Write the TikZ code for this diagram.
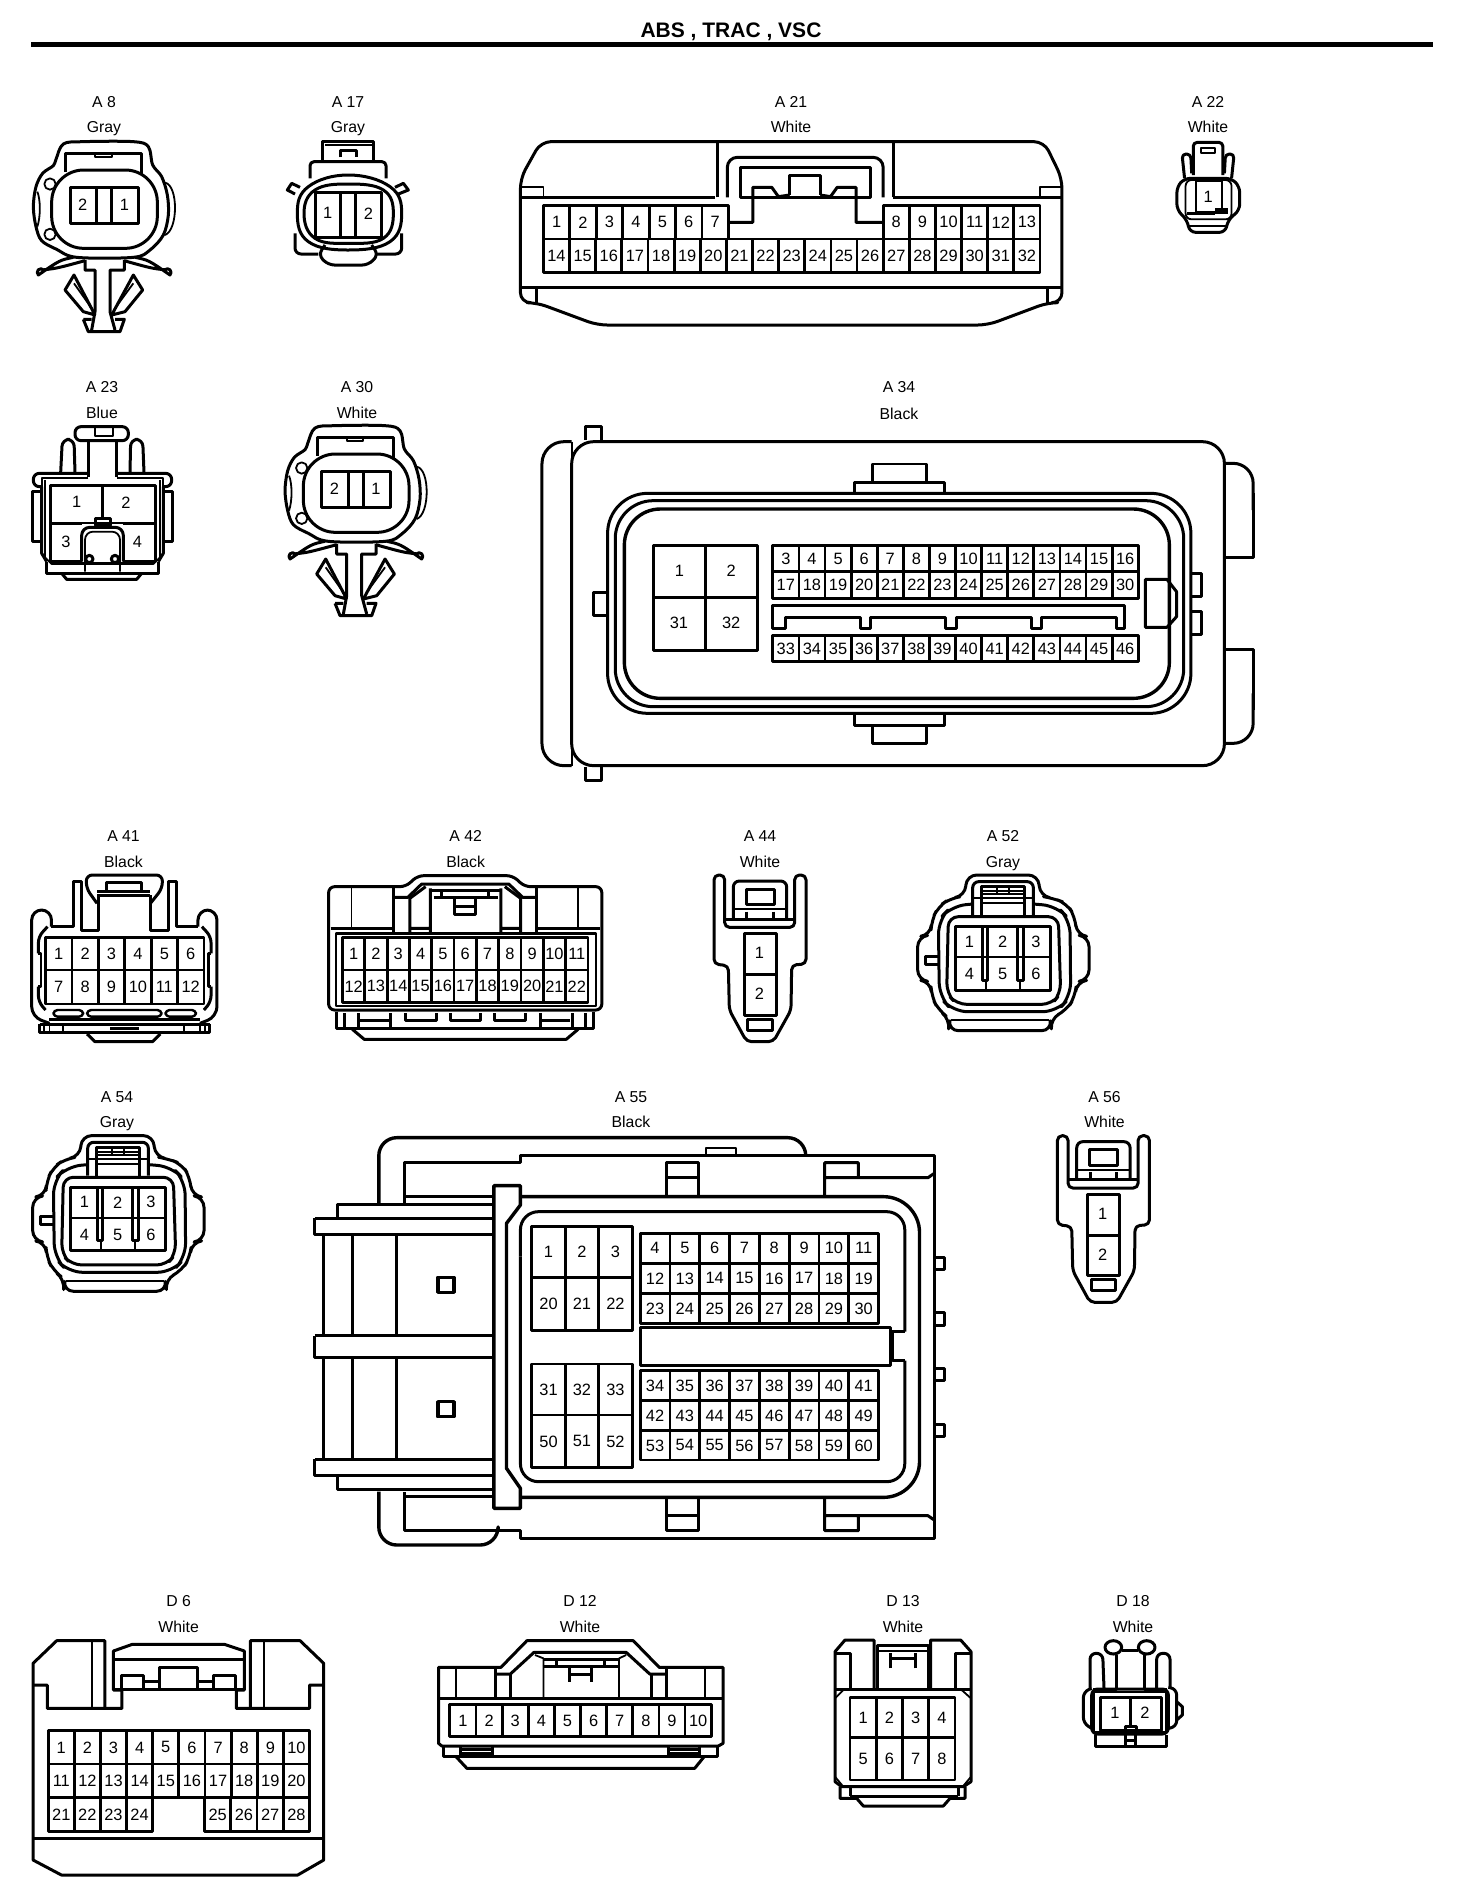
\documentclass[tikz,border=0pt]{standalone}
\usepackage{fontspec}
\setmainfont{Liberation Sans}
\tikzset{
  fine/.style={line width=0.9pt},
  heavy/.style={line width=1.7pt},
  cellbox/.style={line width=1.4pt},
  pinlabel/.style={inner sep=0pt,font=\fontsize{8.2}{10}\selectfont},
  connlabel/.style={inner sep=0pt,anchor=base,font=\fontsize{7.9}{9}\selectfont},
  titlelabel/.style={inner sep=0pt,font=\bfseries\fontsize{10.5}{12}\selectfont},
  zth/.style={x=0.16667pt,y=-0.16667pt}
}
% prefix, x0, x1, cells, y0, y1, first number
\newcommand\pinrow[7]{%
  \foreach \k in {1,...,#4}{%
    \pgfmathsetmacro\xa{#2+(#3-#2)/#4*(\k-1)}%
    \pgfmathsetmacro\xb{#2+(#3-#2)/#4*\k}%
    \pgfmathtruncatemacro\num{#7+\k-1}%
    \draw[cellbox] (\xa,#5) rectangle (\xb,#6);
    \node[pinlabel] (#1-\num) at ({(\xa+\xb)/2},{(#5+#6)/2}) {\num};
  }}
% clip connector (A8, A30), in A8 zoom coordinates
\newcommand\clipconn[3]{%
  \draw plot[smooth cycle,tension=.55] coordinates {(168,478)(190,432)(250,425)(400,425)(445,440)(458,495)(485,530)(502,585)(505,645)(490,705)(450,750)(400,772)(230,772)(170,748)(125,722)(108,680)(100,620)(108,560)(128,520)(160,497)};
  \draw[rounded corners=16pt] (155,510) rectangle (472,745);
  \draw (197,515)--(197,460)--(425,460)--(425,522);
  \draw[fine] (285,462)--(285,472)--(335,472)--(335,462);
  \draw (210,562) rectangle (415,670);
  \draw (290,562)--(290,670) (335,562)--(335,670);
  \draw[fine] (150,552) circle[radius=17] (150,703) circle[radius=17];
  \draw[fine] (495,548) .. controls (535,555) and (535,690) .. (495,705);
  \draw[fine] (112,575) .. controls (122,600) and (122,650) .. (112,680);
  \node[pinlabel] (#1-a) at (248,615) {#2};
  \node[pinlabel] (#1-b) at (373,615) {#3};
  \draw (220,772) .. controls (180,780) .. (115,825) arc[start angle=135,end angle=315,radius=11] .. controls (170,805) .. (255,782);
  \draw (405,772) .. controls (445,780) .. (510,825) arc[start angle=45,end angle=-135,radius=11] .. controls (455,805) .. (372,782);
  \draw (255,780)--(255,810)--(285,810)--(285,935)--(275,990);
  \draw (373,780)--(373,810)--(330,810)--(330,935)--(345,990);
  \draw (250,958)--(265,995)--(360,995)--(373,958)--(345,958) (250,958)--(275,958);
  \draw (285,945)--(222,825)--(195,870)--(250,935)--(285,945);
  \draw (335,945)--(400,825)--(428,870)--(375,935)--(335,945);
  \draw[fine] (222,850)--(275,925) (400,850)--(345,925);
}
% two-pin tall connector (A44, A56), in A44 zoom coordinates
\newcommand\tallconn[1]{%
  \draw[rounded corners=2.4pt] (72,300)--(72,165)--(104,165)--(104,322)--(314,322)--(314,165)--(348,165)--(348,432)--(305,435)--(303,570)--(250,665)--(170,665)--(118,570)--(115,437)--(72,432)--cycle;
  \draw[rounded corners=3pt] (130,297)--(130,183)--(290,183)--(290,297);
  \draw (106,297)--(312,297);
  \draw[fine] (130,268)--(290,268);
  \draw (170,275)--(170,297) (250,275)--(250,297);
  \draw (168,207) rectangle (252,253);
  \draw (163,340) rectangle (258,585);
  \draw (163,463)--(258,463);
  \draw (173,597) rectangle (247,630);
  \node[pinlabel] (#1-1) at (208,400) {1};
  \node[pinlabel] (#1-2) at (208,522) {2};
}
% six-pin sealed connector (A52, A54), in A52 zoom coordinates
\newcommand\sealconn[1]{%
  \draw[rounded corners=5pt] (722,345)--(683,350)--(683,480)--(722,485)--(725,530)--(745,570)--(780,597)--(775,632)--(1085,632)--(1080,597)--(1130,570)--(1155,530)--(1160,485)--(1197,480)--(1197,350)--(1160,345)--(1155,290)--(1130,250)--(1090,235)--(1050,228)--(1045,165)--(830,165)--(825,228)--(780,235)--(745,260)--(725,300)--cycle;
  \draw[rounded corners=7pt] (848,252)--(785,258)--(745,300)--(748,530)--(790,575)--(1100,575)--(1142,530)--(1140,300)--(1100,258)--(1030,252);
  \draw[rounded corners=5pt] (775,290)--(1105,290)--(1112,520)--(1085,553)--(800,553)--(770,520)--cycle;
  \draw[fine] (782,600)--(1078,600);
  \draw[rounded corners=3pt] (848,285)--(848,185)--(1030,185)--(1030,285);
  \draw (875,285)--(875,200)--(1003,200)--(1003,285);
  \draw[fine] (848,235)--(1030,235) (875,213)--(1003,213) (875,222)--(1003,222) (875,250)--(1003,250) (920,205)--(920,222) (958,205)--(958,222);
  \draw (745,408)--(705,408)--(705,432)--(745,432);
  \draw (795,320) rectangle (1080,510);
  \draw[fine] (795,412)--(1080,412);
  \draw (878,320)--(878,480)--(893,480)--(893,320);
  \draw (983,320)--(983,480)--(1000,480)--(1000,320);
  \draw[fine] (887,480)--(887,510) (990,480)--(990,510);
  \node[pinlabel] (#1-1) at (838,365) {1};
  \node[pinlabel] (#1-2) at (938,365) {2};
  \node[pinlabel] (#1-3) at (1038,365) {3};
  \node[pinlabel] (#1-4) at (838,462) {4};
  \node[pinlabel] (#1-5) at (938,462) {5};
  \node[pinlabel] (#1-6) at (1038,462) {6};
}
\begin{document}
\begin{tikzpicture}[x=0.5pt,y=-0.5pt,line width=1.5pt,line join=round]
\useasboundingbox (0,0) rectangle (1472,1900);
\fill[white] (0,0) rectangle (1472,1900);
% title
\node[titlelabel] (title) at (731,32) {ABS , TRAC , VSC};
\fill[black] (31,42) rectangle (1433,47);
% labels
\foreach \nm/\cl/\px/\py/\qy in {A 8/Gray/104/107.5/133,A 17/Gray/348/107.5/133,A 21/White/791/107.5/133,A 22/White/1208/107.5/133,
  A 23/Blue/102/392.5/418,A 30/White/357/392.5/418,A 34/Black/899/392.5/419,
  A 41/Black/123.5/841.5/867,A 42/Black/465.6/841.5/867,A 44/White/760/841.5/867,A 52/Gray/1003/841.5/867,
  A 54/Gray/117/1102.5/1127,A 55/Black/631/1102.5/1127,A 56/White/1104.5/1102.5/1127,
  D 6/White/178.6/1606.5/1632,D 12/White/580/1606.5/1632,D 13/White/903/1606.5/1632,D 18/White/1133/1606.5/1632}{
  \node[connlabel] (name \nm) at (\px,\py) {\nm};
  \node[connlabel] (colour \nm) at (\px,\qy) {\cl};
}
% A8
\begin{scope}[zth]
  \clipconn{A8}{2}{1}
\end{scope}
% A30
\begin{scope}[shift={(251.7,284)},zth]
  \clipconn{A30}{2}{1}
\end{scope}
% A17
\begin{scope}[zth]
  \draw (968,482)--(968,425)--(1120,425)--(1120,482);
  \draw[fine] (975,436)--(1115,436);
  \draw (1020,472)--(1020,452)--(1070,452)--(1070,472);
  \draw[rounded corners=2pt] (930,535)--(930,485)--(1158,485)--(1158,535);
  \draw plot[smooth cycle,tension=.7] coordinates {(892,640)(925,560)(1045,525)(1170,560)(1205,640)(1170,725)(1045,750)(925,725)};
  \draw plot[smooth cycle,tension=.7] coordinates {(912,640)(945,570)(1045,552)(1150,570)(1180,640)(1150,715)(1045,730)(945,715)};
  \draw (945,578) rectangle (1145,712);
  \draw (1020,578)--(1020,712) (1065,578)--(1065,712);
  \draw[rounded corners=3pt] (885,700)--(885,762)--(955,762);
  \draw[rounded corners=3pt] (1205,700)--(1205,762)--(1130,762);
  \draw[rounded corners=3pt] (975,735)--(955,765)--(985,795)--(1105,795)--(1135,765)--(1115,735);
  \draw (885,582)--(862,570)--(875,550)--(900,562);
  \draw (1195,582)--(1225,570)--(1210,550)--(1185,562);
  \node[pinlabel] (A17-1) at (983,640) {1};
  \node[pinlabel] (A17-2) at (1105,640) {2};
\end{scope}
% A21
\begin{scope}[shift={(500,80)},x=0.25543pt,y=-0.16667pt]
  \draw[rounded corners=5pt] (40,295)--(80,185)--(1065,185)--(1100,295)--(1100,668)--(1072,668)--(955,735)--(190,735)--(72,668)--(40,668)--cycle;
  \draw (40,352)--(420,352) (770,352)--(1100,352) (40,622)--(1100,622);
  \draw[fine] (40,320)--(85,320)--(85,352) (1100,320)--(1057,320)--(1057,352);
  \draw (72,622)--(72,668) (1072,622)--(1072,668);
  \draw[rounded corners=8pt] (425,352)--(425,185) (770,352)--(770,185);
  \draw[rounded corners=5pt] (445,352)--(445,232)--(750,232)--(750,352);
  \draw (470,352)--(470,262)--(725,262)--(725,352)--cycle;
  \draw (567,345)--(567,285)--(627,285)--(627,345);
  \draw (447,427)--(495,427)--(495,322)--(532,322)--(545,350)--(567,345);
  \draw (750,427)--(697,427)--(697,322)--(660,322)--(647,350)--(627,345);
  \pinrow{A21}{85}{447}{7}{377}{477}{1}
  \pinrow{A21}{750}{1057}{6}{377}{477}{8}
  \pinrow{A21}{85}{1057}{19}{477}{578}{14}
\end{scope}
% A22
\begin{scope}[shift={(500,80)},x=0.25543pt,y=-0.16667pt]
  \draw[rounded corners=2pt] (1357,285)--(1357,187)--(1415,187)--(1415,285);
  \draw[fine] (1372,205) rectangle (1400,220);
  \draw[rounded corners=2pt] (1340,295)--(1335,222)--(1352,222)--(1354,280);
  \draw[rounded corners=2pt] (1432,295)--(1437,222)--(1420,222)--(1418,280);
  \draw[rounded corners=3pt] (1340,295)--(1325,320)--(1325,390)--(1345,420)--(1350,457)--(1420,457)--(1425,420)--(1448,390)--(1448,320)--(1432,295)--cycle;
  \draw[fine,rounded corners=3pt] (1342,300) rectangle (1432,418);
  \draw[fine] (1362,303) rectangle (1413,395);
  \draw (1345,400)--(1400,400);
  \fill (1400,385) rectangle (1425,402);
  \draw[fine] (1345,437)--(1425,437);
  \node[pinlabel] (A22-1) at (1386,350) {1};
\end{scope}
% A23
\begin{scope}[shift={(0,370)},zth]
  \draw[rounded corners=3pt] (225,170) rectangle (385,212);
  \draw[fine] (285,172) rectangle (340,198);
  \draw (265,212)--(265,322) (350,212)--(350,322);
  \draw[rounded corners=3.5pt] (182,308)--(187,208)--(222,208)--(225,308);
  \draw[rounded corners=3.5pt] (390,308)--(392,208)--(428,208)--(432,308);
  \draw[rounded corners=3pt] (125,350)--(100,350)--(100,310)--(265,310);
  \draw[rounded corners=3pt] (490,350)--(515,350)--(515,310)--(350,310);
  \draw[fine] (265,325)--(125,325)--(125,350) (350,325)--(490,325)--(490,350);
  \draw (150,345) rectangle (465,575);
  \draw (150,460)--(465,460);
  \draw (307,345)--(307,445);
  \fill[white] (245,462) rectangle (370,576);
  \draw (285,445) rectangle (330,465);
  \draw[rounded corners=4pt] (245,575)--(245,472)--(370,472)--(370,575);
  \draw[fine,rounded corners=4pt] (255,605)--(255,485)--(360,485)--(360,605);
  \draw (268,567) circle[radius=11] (345,567) circle[radius=11];
  \draw (125,365)--(97,365)--(97,515)--(125,515);
  \draw (490,365)--(517,365)--(517,515)--(490,515);
  \draw (125,350)--(125,550)--(140,575);
  \draw (490,350)--(490,550)--(475,575);
  \draw[fine] (135,330)--(135,562)--(155,582)--(460,582)--(480,562)--(480,330);
  \draw (140,575)--(140,610)--(475,610)--(475,575);
  \draw (185,610)--(200,628)--(410,628)--(425,610);
  \node[pinlabel] (A23-1) at (230,397) {1};
  \node[pinlabel] (A23-2) at (378,397) {2};
  \node[pinlabel] (A23-3) at (198,515) {3};
  \node[pinlabel] (A23-4) at (412,515) {4};
\end{scope}
% A34
\begin{scope}[shift={(530,410)},x=0.23946pt,y=-0.16667pt]
  \draw[rounded corners=11pt] (87,95) rectangle (1450,1067);
  \draw[rounded corners=11pt] (87,95)--(25,95)--(25,1067)--(87,1067);
  \draw[fine] (87,95)--(87,1067);
  \draw (115,90)--(115,50)--(150,50)--(150,90);
  \draw (115,1070)--(115,1112)--(150,1112)--(150,1070);
  \draw[rounded corners=10pt] (1450,160)--(1510,160)--(1510,300);
  \draw (1510,250)--(1510,443)--(1450,443) (1450,718)--(1510,718)--(1510,900);
  \draw[rounded corners=10pt] (1510,850)--(1510,1000)--(1450,1000);
  \draw (677,248)--(677,217)--(865,217)--(865,248);
  \draw[line width=1.2pt] (715,217)--(715,162)--(828,162)--(828,217);
  \draw (677,915)--(677,945)--(865,945)--(865,915);
  \draw[line width=1.2pt] (715,945)--(715,1000)--(828,1000)--(828,945);
  \draw (162,547)--(132,547)--(132,615)--(162,615);
  \draw (1380,490)--(1403,490)--(1403,558)--(1380,558);
  \draw (1380,603)--(1403,603)--(1403,672)--(1380,672);
  \draw[rounded corners=20pt] (162,250) rectangle (1380,910);
  \draw[rounded corners=19pt] (178,272) rectangle (1365,890);
  \draw[heavy,rounded corners=18pt] (197,297) rectangle (1335,865);
  \draw (257,405) rectangle (475,720);
  \draw (367,405)--(367,720);
  \draw[heavy] (257,562)--(475,562);
  \node[pinlabel] (A34-1) at (312,483) {1};
  \node[pinlabel] (A34-2) at (420,483) {2};
  \node[pinlabel] (A34-31) at (311,638) {31};
  \node[pinlabel] (A34-32) at (420,638) {32};
  \pinrow{A34}{507}{1270}{14}{407}{485}{3}
  \pinrow{A34}{507}{1270}{14}{485}{565}{17}
  \pinrow{A34}{507}{1270}{14}{677}{755}{33}
  \draw (507,655)--(507,587)--(1242,587)--(1242,655)--(1225,655)--(1225,622)--(1068,622)--(1068,655)--(1047,655)--(1047,622)--(890,622)--(890,655)--(868,655)--(868,622)--(712,622)--(712,655)--(690,655)--(690,622)--(533,622)--(533,655)--cycle;
  \draw (1285,508)--(1330,508)--(1350,545)--(1350,620)--(1330,652)--(1285,652)--cycle;
\end{scope}
% A41
\begin{scope}[shift={(0,820)},x=0.19796pt,y=-0.16667pt]
  \draw[rounded corners=3pt] (245,250)--(218,205)--(218,165)--(410,165)--(410,205)--(380,250);
  \draw (245,225)--(380,225);
  \draw (268,188) rectangle (358,213);
  \draw (245,213)--(380,213);
  \draw (248,225)--(248,330)--(205,330)--(205,183)--(185,183)--(185,320)--(130,320);
  \draw (380,225)--(380,330)--(425,330)--(425,183)--(445,183)--(445,320)--(500,320);
  \draw[rounded corners=5pt] (130,320)--(130,270)--(80,270)--(80,590)--(125,610);
  \draw[rounded corners=5pt] (500,320)--(500,270)--(548,270)--(548,590)--(505,610);
  \draw[rounded corners=3pt] (120,320)--(97,350)--(97,400) (97,500)--(97,545)--(115,570);
  \draw[rounded corners=3pt] (510,320)--(533,350)--(533,400) (533,500)--(533,545)--(515,570);
  \draw[line width=1.2pt] (97,400)--(103,400)--(103,500)--(97,500) (533,400)--(527,400)--(527,500)--(533,500);
  \pinrow{A41}{115}{515}{6}{352}{450}{1}
  \pinrow{A41}{115}{515}{6}{450}{552}{7}
  \draw[line width=1.2pt,rounded corners=2pt] (135,570) rectangle (210,590);
  \draw[line width=1.2pt,rounded corners=2pt] (220,570) rectangle (408,590);
  \draw[line width=1.2pt,rounded corners=2pt] (418,570) rectangle (495,590);
  \draw (125,598)--(505,598);
  \draw (100,612)--(530,612);
  \draw (100,612)--(100,638)--(530,638)--(530,612);
  \draw[fine] (112,615)--(112,638) (125,615)--(125,638) (160,615)--(160,638) (465,615)--(465,638) (505,615)--(505,638) (518,615)--(518,638);
  \draw (278,625)--(350,625);
  \draw (220,642)--(240,665)--(385,665)--(405,642);
\end{scope}
% A42
\begin{scope}[shift={(0,820)},x=0.19796pt,y=-0.16667pt]
  \draw[rounded corners=3pt] (830,200)--(1025,200)--(1055,167)--(1295,167)--(1325,200)--(1520,200)--(1520,570)--(830,570)--cycle;
  \draw[fine] (888,205)--(888,325) (1460,205)--(1460,325);
  \draw (835,325)--(995,325) (995,205)--(995,338) (1355,205)--(1355,338) (1355,325)--(1515,325);
  \draw (995,232)--(1030,232)--(1065,192)--(1285,192)--(1320,232)--(1355,232);
  \draw (1035,338)--(1035,235)--(1075,200) (1035,325)--(1087,325) (1087,338)--(1087,205);
  \draw (1265,338)--(1265,205) (1265,325)--(1315,325) (1315,338)--(1315,235)--(1275,200);
  \draw (1087,212)--(1265,212);
  \draw[heavy] (1095,232)--(1258,232);
  \draw (1115,215)--(1115,232) (1235,215)--(1235,232);
  \draw (1148,238)--(1148,282)--(1202,282)--(1202,238) (1148,258)--(1202,258);
  \draw[line width=1.2pt] (848,340) rectangle (1505,558);
  \pinrow{A42}{865}{1485}{11}{352}{450}{1}
  \pinrow{A42}{865}{1485}{11}{450}{548}{12}
  \draw (850,575)--(850,625)--(1500,625)--(1500,575);
  \draw (870,580)--(870,625) (905,580)--(905,625) (910,600)--(985,600) (985,580)--(985,625);
  \draw (1480,580)--(1480,625) (1445,580)--(1445,625) (1440,600)--(1365,600) (1365,580)--(1365,625);
  \draw (1025,580)--(1025,600)--(1103,600)--(1103,580);
  \draw (1138,580)--(1138,600)--(1213,600)--(1213,580);
  \draw (1250,580)--(1250,600)--(1327,600)--(1327,580);
  \draw (890,628)--(920,658)--(1430,658)--(1460,628);
\end{scope}
% A44
\begin{scope}[shift={(690,820)},zth]
  \tallconn{A44}
\end{scope}
% A56
\begin{scope}[shift={(1033.4,1080.7)},zth]
  \tallconn{A56}
\end{scope}
% A52
\begin{scope}[shift={(690,820)},zth]
  \sealconn{A52}
\end{scope}
% A54
\begin{scope}[shift={(-195,1080.6)},zth]
  \sealconn{A54}
\end{scope}
% A55
\begin{scope}[shift={(300,1090)},x=0.21072pt,y=-0.16667pt]
  \draw[heavy,rounded corners=9pt] (187,340)--(187,143)--(1200,143)--(1200,197);
  \draw[heavy] (1200,197)--(1505,197)--(1505,1345)--(523,1345)--(523,1322)--(248,1322)--(248,1205);
  \draw[heavy,rounded corners=9pt] (187,1205)--(187,1365)--(470,1365)--(470,1322);
  \draw[heavy] (248,340)--(248,218)--(523,218)--(523,197)--(1200,197);
  \draw (248,320)--(460,320) (248,1218)--(460,1218);
  \draw[heavy,rounded corners=18pt] (523,320)--(1470,320)--(1470,1222)--(523,1222);
  \draw[heavy] (460,287)--(523,287)--(523,345)--(490,400)--(490,1135)--(523,1195)--(523,1255)--(460,1255)--cycle;
  \draw[rounded corners=9pt] (523,500)--(523,365)--(1435,365)--(1435,725);
  \draw (1435,725)--(1405,725)--(1405,812)--(1435,812);
  \draw[rounded corners=9pt] (1435,812)--(1435,1175)--(523,1175)--(523,500);
  \draw (870,320)--(870,218)--(945,218)--(945,320) (870,263)--(945,263);
  \draw (1245,320)--(1245,218)--(1325,218)--(1325,263) (1245,263)--(1490,263)--(1505,250);
  \draw[line width=1.1pt] (963,195)--(963,175)--(1035,175)--(1035,195);
  \draw (870,1222)--(870,1322)--(945,1322)--(945,1222) (870,1277)--(945,1277);
  \draw (1245,1222)--(1245,1322)--(1325,1322)--(1325,1277) (1245,1277)--(1490,1277)--(1505,1290);
  \draw (1505,503) rectangle (1530,538) (1505,667) rectangle (1530,705) (1505,835) rectangle (1530,872) (1505,1003) rectangle (1530,1040);
  \draw (90,385)--(90,342)--(460,342) (35,385)--(460,385);
  \draw (35,385)--(35,432)--(460,432);
  \draw (55,432)--(55,737) (125,432)--(125,737) (230,432)--(230,737);
  \draw (55,803)--(55,1108) (125,803)--(125,1108) (230,803)--(230,1108);
  \draw (35,737)--(460,737) (35,737)--(35,803)--(460,803);
  \draw (35,1108)--(460,1108) (35,1108)--(35,1155)--(460,1155);
  \draw (90,1155)--(90,1198)--(460,1198);
  \draw[heavy] (327,562) rectangle (365,607) (327,935) rectangle (365,980);
  \pinrow{A55}{550}{788}{3}{410}{563}{1}
  \pinrow{A55}{550}{788}{3}{563}{722}{20}
  \pinrow{A55}{550}{788}{3}{822}{975}{31}
  \pinrow{A55}{550}{788}{3}{975}{1133}{50}
  \pinrow{A55}{807}{1373}{8}{430}{520}{4}
  \pinrow{A55}{807}{1373}{8}{520}{610}{12}
  \pinrow{A55}{807}{1373}{8}{610}{700}{23}
  \pinrow{A55}{807}{1373}{8}{842}{932}{34}
  \pinrow{A55}{807}{1373}{8}{932}{1022}{42}
  \pinrow{A55}{807}{1373}{8}{1022}{1110}{53}
  \draw (807,712) rectangle (1400,827);
\end{scope}
% D6
\begin{scope}[shift={(0,1590)},x=0.23628pt,y=-0.16667pt]
  \draw (222,355)--(222,152)--(120,152)--(70,220)--(70,810)--(130,855)--(630,855)--(685,810)--(685,220)--(635,152)--(530,152)--(530,355);
  \draw[fine] (195,152)--(195,352) (558,152)--(558,352);
  \draw (70,285)--(100,285)--(100,355)--(258,355)--(258,300)--(240,300)--(240,183)--(280,163)--(475,163)--(517,183)--(517,300)--(500,300)--(500,355)--(655,355)--(655,285)--(685,285);
  \draw (240,208)--(517,208) (240,297)--(517,297);
  \draw (258,297)--(258,255)--(303,255)--(303,297) (452,297)--(452,255)--(498,255)--(498,297);
  \draw (338,297)--(338,232)--(418,232)--(418,297) (303,275)--(338,275) (418,275)--(452,275);
  \pinrow{D6}{102}{655}{10}{422}{522}{1}
  \pinrow{D6}{102}{655}{10}{522}{623}{11}
  \pinrow{D6}{102}{323}{4}{623}{725}{21}
  \pinrow{D6}{433}{655}{4}{623}{725}{25}
  \draw (70,745)--(685,745);
\end{scope}
% D12
\begin{scope}[shift={(0,1590)},x=0.23628pt,y=-0.16667pt]
  \draw (928,232)--(1060,232)--(1115,152)--(1340,152)--(1395,232)--(1530,232)--(1530,460)--(1520,468)--(935,468)--(928,460)--cycle;
  \draw[fine] (965,235)--(965,322) (1492,235)--(1492,322);
  \draw (1048,235)--(1048,322) (1410,235)--(1410,322) (928,325)--(1530,325);
  \draw (1048,252)--(1080,252)--(1130,187)--(1325,187)--(1375,252)--(1410,252);
  \draw (1080,252)--(1080,322) (1378,252)--(1378,322);
  \draw[fine] (1150,322)--(1150,205)--(1132,195) (1310,322)--(1310,205)--(1325,195);
  \draw (1148,208)--(1310,208) (1148,230)--(1310,230) (1178,210)--(1178,230) (1280,210)--(1280,230);
  \draw (1205,235)--(1205,275) (1252,235)--(1252,275) (1205,252)--(1252,252);
  \pinrow{D12}{952}{1505}{10}{343}{440}{1}
  \draw (938,468)--(938,500)--(1518,500)--(1518,468);
  \draw (965,500)--(988,535)--(1470,535)--(1490,500);
  \draw (975,470)--(975,495) (1043,470)--(1043,495) (975,478)--(1043,478) (975,490)--(1043,490);
  \draw (1415,470)--(1415,495) (1480,470)--(1480,495) (1415,478)--(1480,478) (1415,490)--(1480,490);
\end{scope}
% D13
\begin{scope}[shift={(800,1590)},zth]
  \draw (222,295)--(222,150)--(135,150)--(105,185)--(105,575)--(125,590)--(490,590)--(513,575)--(513,185)--(482,150)--(392,150)--(392,295);
  \draw (105,190)--(150,190)--(150,295) (465,295)--(465,190)--(513,190) (105,297)--(513,297);
  \draw (232,295)--(232,165)--(385,165)--(385,295);
  \draw[fine] (235,182)--(385,182);
  \draw (270,235)--(270,190) (345,235)--(345,190) (270,205)--(345,205);
  \draw[fine] (105,325)--(130,300) (513,325)--(485,300) (105,560)--(130,590) (513,560)--(488,590);
  \pinrow{D13}{150}{465}{4}{322}{442}{1}
  \pinrow{D13}{150}{465}{4}{442}{570}{5}
  \draw (120,590)--(120,625)--(170,625)--(190,648)--(430,648)--(450,625)--(495,625)--(495,590);
  \draw (150,590)--(150,618) (475,590)--(475,618) (150,618)--(475,618);
\end{scope}
% D18
\begin{scope}[shift={(800,1590)},zth]
  \draw (940,172) ellipse[x radius=25,y radius=20] (1040,172) ellipse[x radius=25,y radius=20];
  \draw (965,182)--(1015,182);
  \draw (948,195)--(948,297)--(880,297) (1032,195)--(1032,297)--(1100,297);
  \draw[rounded corners=3pt] (870,295)--(870,190)--(908,190)--(912,295);
  \draw[rounded corners=3pt] (1070,295)--(1070,190)--(1110,190)--(1110,295);
  \draw[rounded corners=3pt] (875,297) rectangle (1105,432);
  \draw[fine] (883,305) rectangle (1097,425);
  \draw[rounded corners=3pt] (875,295)--(850,305)--(850,400)--(875,415);
  \draw[rounded corners=3pt] (1105,292)--(1130,297)--(1130,410)--(1105,415);
  \draw (1130,335)--(1147,350)--(1147,375)--(1130,390);
  \draw (900,322) rectangle (1083,420);
  \draw (990,322)--(990,410);
  \draw (975,410) rectangle (1008,430);
  \node[pinlabel] (D18-1) at (945,368) {1};
  \node[pinlabel] (D18-2) at (1035,368) {2};
  \draw (885,435)--(885,470)--(1098,470)--(1098,435);
  \draw (975,435)--(975,470) (1005,435)--(1005,470) (975,452)--(1005,452);
\end{scope}
\end{tikzpicture}
\end{document}
